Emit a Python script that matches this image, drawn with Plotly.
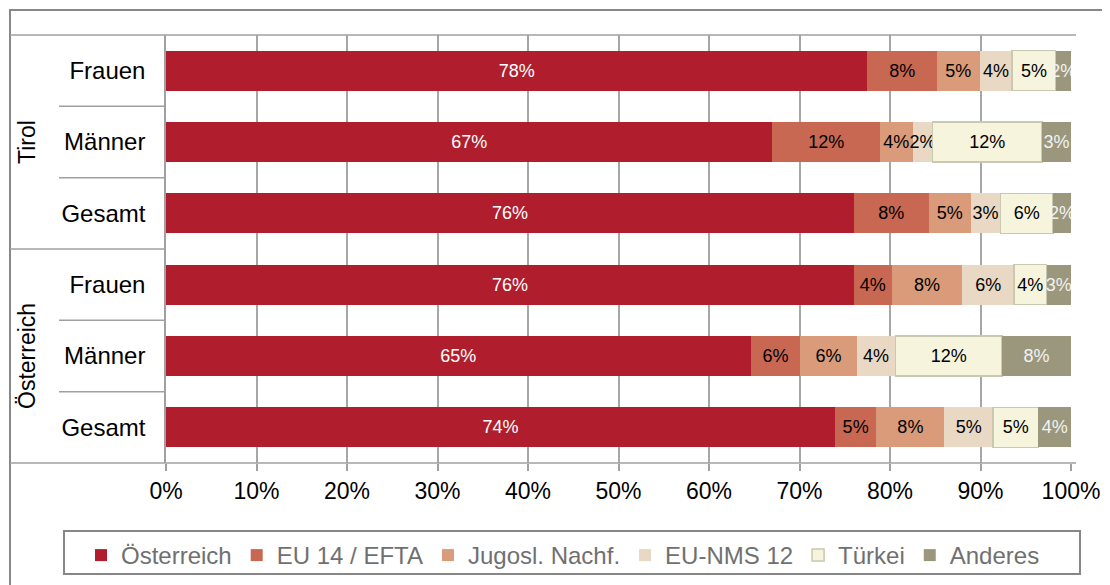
import plotly.graph_objects as go

# categories (top to bottom)
regions = ['Tirol', 'Tirol', 'Tirol', 'Österreich', 'Österreich', 'Österreich']
categories = ['Frauen', 'Männer', 'Gesamt', 'Frauen', 'Männer', 'Gesamt']

# shares in % per origin group
oesterreich = [77.5, 67.0, 76.0, 76.0, 64.6, 73.9]
eu14_efta = [7.7, 11.9, 8.3, 4.2, 5.5, 4.6]
jugosl = [4.7, 3.6, 4.6, 7.8, 6.2, 7.5]
eu_nms12 = [3.6, 2.2, 3.3, 5.7, 4.3, 5.4]
tuerkei = [4.8, 12.1, 5.8, 3.6, 11.8, 5.0]
anderes = [1.7, 3.2, 2.0, 2.7, 7.6, 3.6]

series_names = ['Österreich', 'EU 14 / EFTA', 'Jugosl. Nachf.', 'EU-NMS 12', 'Türkei', 'Anderes']
series_values = [oesterreich, eu14_efta, jugosl, eu_nms12, tuerkei, anderes]
colors = ['#B01E2E', '#C86752', '#D99B79', '#E9D8C4', '#F6F4DC', '#9B977D']
text_colors = ['white', 'black', 'black', 'black', 'black', '#F2F2F2']

FONT = 'Liberation Sans, Arial, sans-serif'
OFF = 8  # page body margin
W, H = 1110 - OFF, 585 - OFF
# plot area in page pixels: x 166..1071, y 35..463
L, T = 166 - OFF, 35 - OFF
R, B = W - (1071 - OFF), H - (463 - OFF)
pw, ph = 1071 - 166, 463 - 35


def xp(px):
    return (px - 166) / pw


def yp(py):
    return (463 - py) / ph


ypos = list(range(len(categories)))

fig = go.Figure()
for name, vals, col, tcol in zip(series_names, series_values, colors, text_colors):
    fig.add_trace(go.Bar(
        y=ypos, x=vals, name=name, orientation='h',
        marker=dict(color=col,
                    line=dict(color='#C9C8B0' if name == 'Türkei' else col,
                              width=1.5 if name == 'Türkei' else 0)),
        width=0.56,
        texttemplate='%{x:.0f}%', textposition='inside', insidetextanchor='middle',
        textangle=0, textfont=dict(size=18, color=tcol, family=FONT),
        cliponaxis=True,
    ))

line_col = '#A0A0A0'
shapes = [
    # outer frame
    dict(type='rect', xref='paper', yref='paper', x0=xp(10), y0=yp(10), x1=xp(1125), y1=yp(600),
         line=dict(color='#888888', width=2)),
    # legend frame
    dict(type='rect', xref='paper', yref='paper', x0=xp(64), y0=yp(531), x1=xp(1080), y1=yp(574),
         line=dict(color='#868686', width=2)),
    # top and bottom lines
    dict(type='line', xref='paper', yref='paper', x0=xp(10), x1=xp(1076), y0=1, y1=1,
         line=dict(color=line_col, width=1.5)),
    dict(type='line', xref='paper', yref='paper', x0=xp(10), x1=xp(1076), y0=0, y1=0,
         line=dict(color=line_col, width=1.5)),
]
n = len(categories)
for i in range(n - 1):
    yb = 1 - (i + 1) / n
    x0 = xp(10) if regions[i] != regions[i + 1] else xp(59)
    shapes.append(dict(type='line', xref='paper', yref='paper', x0=x0, x1=0, y0=yb, y1=yb,
                       line=dict(color=line_col, width=1.5)))

annotations = []
for reg in dict.fromkeys(regions):
    idx = [i for i, r in enumerate(regions) if r == reg]
    yc = 1 - (sum(idx) / len(idx) + 0.5) / n
    annotations.append(dict(text=reg, xref='paper', yref='paper', x=xp(27), y=yc,
                            xanchor='center', yanchor='middle',
                            textangle=-90, showarrow=False,
                            font=dict(size=23, color='black', family=FONT)))

fig.update_layout(
    width=W, height=H,
    margin=dict(l=L, r=R, t=T, b=B, autoexpand=False),
    barmode='stack',
    paper_bgcolor='white', plot_bgcolor='white',
    font=dict(family=FONT, color='black'),
    uniformtext=dict(minsize=18, mode='show'),
    xaxis=dict(range=[0, 100], dtick=10, ticksuffix='%', ticks='outside', ticklen=7,
               tickcolor=line_col, tickwidth=1.5, showgrid=True, gridcolor='#A6A6A6', gridwidth=1.5,
               zeroline=False, showline=False, tickfont=dict(size=23, color='black')),
    yaxis=dict(range=[n - 0.5, -0.5], tickvals=ypos, ticktext=categories, showgrid=False,
               zeroline=False, showline=True, linecolor=line_col, linewidth=1.5,
               ticks='', ticklabelstandoff=14, tickfont=dict(size=24, color='black')),
    legend=dict(orientation='h', x=xp(81), xanchor='left', y=yp(533), yanchor='top',
                bgcolor='rgba(0,0,0,0)', borderwidth=0,
                font=dict(size=24, color='#707070'), traceorder='normal'),
    shapes=shapes,
    annotations=annotations,
)

fig.write_html("out.html")
